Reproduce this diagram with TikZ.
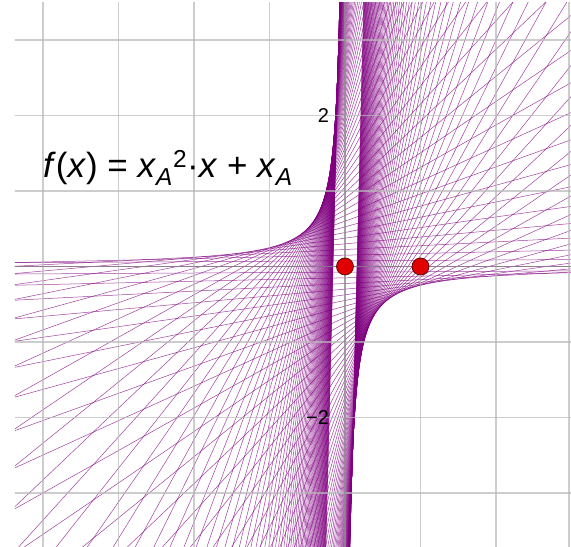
\documentclass[tikz,border=0pt]{standalone}
\usepackage{fontspec}
\setmainfont{Liberation Sans}
\definecolor{famc}{RGB}{128,0,128}
\definecolor{gridc}{RGB}{185,185,185}
\definecolor{axisc}{RGB}{140,140,140}
\definecolor{ptfill}{RGB}{225,0,0}
\definecolor{ptdraw}{RGB}{90,0,0}
\tikzset{
  fam/.style={draw=famc, line width=0.5pt, opacity=0.75},
  gridline/.style={draw=gridc, line width=1.3pt, opacity=0.7},
  axisline/.style={draw=axisc, line width=1.3pt, opacity=0.8},
  pt/.style={circle, fill=ptfill, draw=ptdraw, line width=0.7pt, inner sep=0pt, minimum size=17pt},
  ticklab/.style={font=\fontsize{20}{20}\selectfont, inner sep=0pt, anchor=east},
  formula/.style={font=\fontsize{35}{35}\selectfont, inner sep=0pt, anchor=base west}
}
\begin{document}
\begin{tikzpicture}[x=75.5pt,y=75.5pt]
\useasboundingbox (-4.5695,-3.7152) rectangle (2.9934,3.5298);
\fill[white] (-4.5695,-3.7152) rectangle (2.9934,3.5298);
\begin{scope}
\clip (-4.371,-3.7152) rectangle (2.9934,3.4967);
% family of lines y = a^2 x + a
\foreach \k in {-84,...,84}{
  \ifnum\k=0
    \draw[fam] (-4.6,0) -- (3.1,0);
  \else
    \pgfmathsetmacro\a{\k*0.075}
    \pgfmathsetmacro\xl{max(-4.6,(-3.8-\a)/(\a*\a))}
    \pgfmathsetmacro\xr{min(3.1,(3.6-\a)/(\a*\a))}
    \draw[fam] (\xl,{\a*\a*\xl+\a}) -- (\xr,{\a*\a*\xr+\a});
  \fi
}
% grid
\foreach \i in {-4,-3,-2,-1,1,2,3}{
  \draw[gridline] (\i,-3.8) -- (\i,3.6);
}
\foreach \j in {-3,-2,-1,1,2,3}{
  \draw[gridline] (-4.6,\j) -- (3.1,\j);
}
\draw[gridline] (2.965,-3.8) -- (2.965,3.6);
% axes
\draw[axisline] (-4.6,0) -- (3.1,0);
\draw[axisline] (0,-3.8) -- (0,3.6);
\end{scope}
\node[ticklab] (t2) at (-0.21,2) {2};
\node[ticklab] (tm2) at (-0.21,-2.0) {−2};
\node[pt] (O) at (0,0) {};
\node[pt] (A) at (1,0) {};
\node[formula] (f) at (-4.0,1.185) {\textit{f}(\textit{x}) = \textit{x}\textsubscript{\textit{A}}\textsuperscript{2}·\textit{x} + \textit{x}\textsubscript{\textit{A}}};
\end{tikzpicture}
\end{document}
